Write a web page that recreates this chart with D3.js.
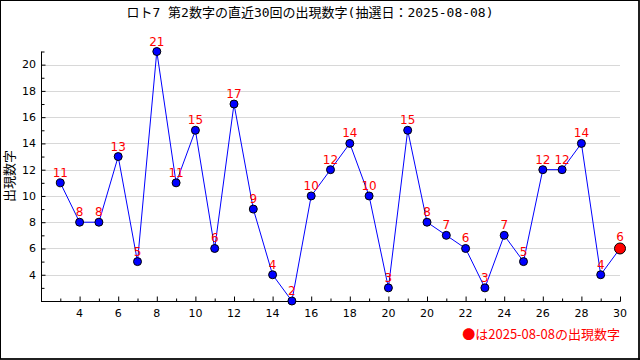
<!DOCTYPE html>
<html><head><meta charset="utf-8">
<script src="https://cdn.jsdelivr.net/npm/d3@7"></script>
<style>body{margin:0;background:#fff}svg{display:block}</style>
</head><body>
<svg id="c" width="640" height="360"></svg>
<script>
const title = "ロト7 第2数字の直近30回の出現数字(抽選日：2025-08-08)";
const yLabel = "出現数字";
const legendText = "●は2025-08-08の出現数字";
const values = [11,8,8,13,5,21,11,15,6,17,9,4,2,10,12,14,10,3,15,8,7,6,3,7,5,12,12,14,4,6];
const xTickIndex = [1,3,5,7,9,11,13,15,17,19,21,23,25,27,29];
const xTickLabels = ["4","6","8","10","12","14","16","18","20","20","22","24","26","28","30"];
const yTicks = [4,6,8,10,12,14,16,18,20];
const yMinor = [3,5,7,9,11,13,15,17,19,21];

const svg = d3.select("#c");
const W = 640, H = 360;
const L = 41, R = 620, T = 51.5, B = 301;
const x = d3.scaleLinear().domain([-1, 29]).range([L, R]);
const y = d3.scaleLinear().domain([2, 21]).range([B, T]);

// outer frame
svg.append("rect").attr("x",0.5).attr("y",0.5).attr("width",W-1.5).attr("height",H-1.5)
  .attr("fill","none").attr("stroke","#000").attr("stroke-width",1);
svg.append("line").attr("x1",639).attr("x2",639).attr("y1",0).attr("y2",360).attr("stroke","#000").attr("stroke-width",1.5);
svg.append("line").attr("x1",0).attr("x2",640).attr("y1",359).attr("y2",359).attr("stroke","#000").attr("stroke-width",1.5);

// grid
svg.append("g").selectAll("line").data(yTicks).join("line")
  .attr("x1",L).attr("x2",R).attr("y1",d=>Math.round(y(d))+0.5).attr("y2",d=>Math.round(y(d))+0.5)
  .attr("stroke","#d8d8d8").attr("stroke-width",1);

// y axis
const yAx = d3.axisRight(y).tickValues(yTicks).tickSize(4).tickFormat("");
const gy = svg.append("g").attr("transform",`translate(${L+0.5},0)`).call(yAx);
gy.select(".domain").remove();
svg.append("g").attr("transform",`translate(${L+0.5},0)`)
  .call(d3.axisRight(y).tickValues(yMinor).tickSize(3).tickFormat("")).select(".domain").remove();
svg.append("g").selectAll("text").data(yTicks).join("text")
  .attr("x",36).attr("y",d=>y(d)).attr("dy","0.35em").attr("text-anchor","end")
  .attr("font-family","DejaVu Sans").attr("font-size",11).attr("fill","#000").text(d=>d);
svg.append("line").attr("x1",L+0.5).attr("x2",L+0.5).attr("y1",T).attr("y2",B+0.5).attr("stroke","#000");

// x axis
const xAll = d3.range(0,30);
svg.append("g").attr("transform",`translate(0,${B+0.5})`)
  .call(d3.axisTop(x).tickValues(xAll.filter(i=>!xTickIndex.includes(i))).tickSize(3).tickFormat("")).select(".domain").remove();
svg.append("g").attr("transform",`translate(0,${B+0.5})`)
  .call(d3.axisTop(x).tickValues(xTickIndex).tickSize(5).tickFormat("")).select(".domain").remove();
svg.append("line").attr("x1",L).attr("x2",R+0.5).attr("y1",B+0.5).attr("y2",B+0.5).attr("stroke","#000");
svg.append("g").selectAll("text").data(xTickIndex).join("text")
  .attr("x",d=>x(d)).attr("y",317).attr("text-anchor","middle")
  .attr("font-family","DejaVu Sans").attr("font-size",11).attr("fill","#000")
  .text((d,i)=>xTickLabels[i]);

// line
svg.append("path").datum(values)
  .attr("d", d3.line().x((d,i)=>x(i)).y(d=>y(d)))
  .attr("fill","none").attr("stroke","#0000ff").attr("stroke-width",1);

// points
const last = values.length-1;
svg.append("g").selectAll("circle").data(values).join("circle")
  .attr("cx",(d,i)=>x(i)).attr("cy",d=>y(d))
  .attr("r",(d,i)=>i===last?5.5:4)
  .attr("fill",(d,i)=>i===last?"#ff0000":"#0000ff")
  .attr("stroke","#000").attr("stroke-width",1);

// point labels
svg.append("g").selectAll("text").data(values).join("text")
  .attr("x",(d,i)=>x(i)).attr("y",(d,i)=>y(d)-(i===last?7:6))
  .attr("text-anchor","middle")
  .attr("font-family","DejaVu Sans").attr("font-size",12).attr("fill","#ff0000")
  .text(d=>d);

// title
svg.append("text").attr("x",310).attr("y",17).attr("text-anchor","middle")
  .attr("font-family","'DejaVu Sans Mono','Noto Sans CJK JP'").attr("font-size",13).attr("fill","#000").text(title);

// y label
svg.append("text").attr("transform",`translate(14,176) rotate(-90)`).attr("text-anchor","middle")
  .attr("font-family","Noto Sans CJK JP").attr("font-size",13).attr("fill","#000").text(yLabel);

// legend
svg.append("text").attr("x",620).attr("y",339).attr("text-anchor","end")
  .attr("font-family","Noto Sans CJK JP").attr("font-size",13).attr("fill","#ff0000").text(legendText);
</script>
</body></html>
